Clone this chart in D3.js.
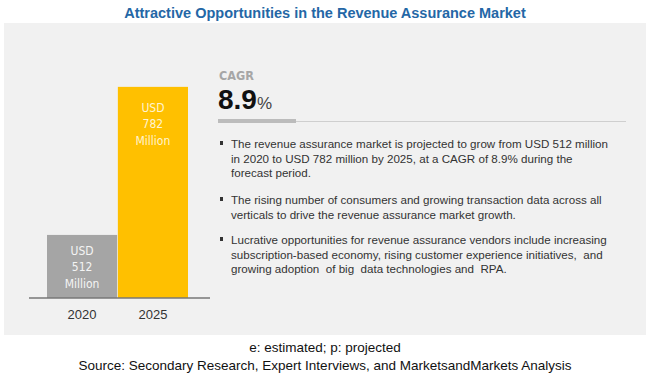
<!DOCTYPE html>
<html>
<head>
<meta charset="utf-8">
<script src="https://cdn.jsdelivr.net/npm/d3@7"></script>
<style>
  body { margin: 0; background: #fff; }
  svg { display: block; }
</style>
</head>
<body>
<div id="chart"></div>
<script>
// data
var years = ["2020", "2025"];
var values = [512, 782];
var valueUnit = "Million";
var valueCurrency = "USD";
var cagrValue = "8.9";
var bullets = [
    ["The revenue assurance market is projected to grow from USD 512 million",
     "in 2020 to USD 782 million by 2025, at a CAGR of 8.9% during the",
     "forecast period."],
    ["The rising number of consumers and growing transaction data across all",
     "verticals to drive the revenue assurance market growth."],
    ["Lucrative opportunities for revenue assurance vendors include increasing",
     "subscription-based economy, rising customer experience initiatives,  and",
     "growing adoption  of big  data technologies and  RPA."]
];
var titleText = "Attractive Opportunities in the Revenue Assurance Market";
var footnotes = ["e: estimated; p: projected",
    "Source: Secondary Research, Expert Interviews, and MarketsandMarkets Analysis"];

var barColors = ["#a5a5a5", "#ffc000"];
var labelColors = ["#f4f4f4", "#fff4d0"];

var width = 650, height = 377;

var svg = d3.select("#chart").append("svg")
    .attr("width", width)
    .attr("height", height);

// title
svg.append("text")
    .attr("x", 325)
    .attr("y", 18)
    .attr("text-anchor", "middle")
    .style("font-family", "'Liberation Sans', Arial, sans-serif")
    .style("font-weight", "bold")
    .style("font-size", "14.5px")
    .style("fill", "#2467a6")
    .text(titleText);

// background panel
svg.append("rect")
    .attr("x", 4)
    .attr("y", 23)
    .attr("width", 642)
    .attr("height", 312)
    .attr("fill", "#f1f1f1");

// bar chart
var x = d3.scaleBand()
    .domain(years)
    .range([47, 188])
    .paddingInner(0.01);

var y = d3.scaleLinear()
    .domain([397, 800])
    .range([298, 77]);

var bars = svg.append("g").attr("class", "bars");

bars.selectAll("rect")
    .data(values)
    .enter().append("rect")
    .attr("x", function(d, i) { return x(years[i]); })
    .attr("width", x.bandwidth())
    .attr("y", function(d) { return y(d); })
    .attr("height", function(d) { return y.range()[0] - y(d); })
    .attr("fill", function(d, i) { return barColors[i]; });

// value labels inside bars
values.forEach(function(v, i) {
    var cx = x(years[i]) + x.bandwidth() / 2;
    var top = y(v);
    var firstY = i === 0 ? top + 20 : top + 25;
    var lines = [valueCurrency, String(v), valueUnit];
    lines.forEach(function(t, j) {
        bars.append("text")
            .attr("x", cx)
            .attr("y", firstY + j * 16.5)
            .attr("text-anchor", "middle")
            .style("font-family", "'DejaVu Sans Condensed', 'Liberation Sans Narrow', sans-serif")
            .style("font-stretch", "condensed")
            .style("font-size", "12px")
            .style("fill", labelColors[i])
            .text(t);
    });
});

// baseline axis
var xAxis = d3.axisBottom(x).tickSize(0).tickPadding(12);
var axisG = svg.append("g")
    .attr("transform", "translate(0," + y.range()[0] + ")")
    .call(xAxis);
axisG.select(".domain")
    .attr("d", "M29,0H210")
    .attr("stroke", "#777")
    .attr("stroke-width", 1.5);
axisG.selectAll("text")
    .style("font-family", "'Liberation Sans', Arial, sans-serif")
    .style("font-size", "13px")
    .style("fill", "#333");

// CAGR block
var info = svg.append("g").attr("class", "info");
info.append("text")
    .attr("x", 219)
    .attr("y", 80)
    .style("font-family", "'DejaVu Sans Condensed', 'Liberation Sans Narrow', sans-serif")
    .style("font-stretch", "condensed")
    .style("font-weight", "bold")
    .style("font-size", "12.5px")
    .style("fill", "#a6a6a6")
    .text("CAGR");

var cagr = info.append("text")
    .attr("x", 218)
    .attr("y", 109)
    .style("font-family", "'Liberation Sans', Arial, sans-serif")
    .style("fill", "#111");
cagr.append("tspan")
    .style("font-weight", "bold")
    .style("font-size", "28px")
    .text(cagrValue);
cagr.append("tspan")
    .style("font-size", "17px")
    .style("fill", "#444")
    .text("%");

info.append("line")
    .attr("x1", 218).attr("x2", 626)
    .attr("y1", 121.5).attr("y2", 121.5)
    .attr("stroke", "#cfcfcf")
    .attr("stroke-width", 1);
info.append("rect")
    .attr("x", 218)
    .attr("y", 119)
    .attr("width", 78)
    .attr("height", 4)
    .attr("fill", "#bcbcbc");

// bullet points
var bulletStarts = [148, 204, 244];
var lineH = 14.5;
bullets.forEach(function(lines, i) {
    info.append("rect")
        .attr("x", 220)
        .attr("y", bulletStarts[i] - 7)
        .attr("width", 3)
        .attr("height", 4)
        .attr("fill", "#333");
    lines.forEach(function(t, j) {
        info.append("text")
            .attr("x", 231)
            .attr("y", bulletStarts[i] + j * lineH)
            .attr("xml:space", "preserve")
            .style("white-space", "pre")
            .style("font-family", "'Liberation Sans', Arial, sans-serif")
            .style("font-size", "11.6px")
            .style("fill", "#333")
            .text(t);
    });
});

// footnotes
footnotes.forEach(function(t, i) {
    svg.append("text")
        .attr("x", 325)
        .attr("y", 352 + i * 18)
        .attr("text-anchor", "middle")
        .style("font-family", "'Liberation Sans', Arial, sans-serif")
        .style("font-size", "13.5px")
        .style("fill", "#111")
        .text(t);
});
</script>
</body>
</html>
